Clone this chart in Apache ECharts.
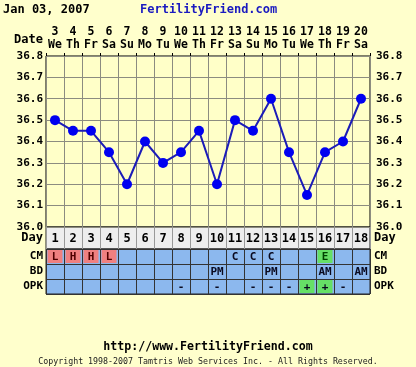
<!DOCTYPE html>
<html>
<head>
<meta charset="utf-8">
<script src="https://cdn.jsdelivr.net/npm/echarts@6/dist/echarts.min.js"></script>
<style>
html,body{margin:0;padding:0;background:#FFFFCC;}
#c{width:416px;height:367px;}
</style>
</head>
<body>
<div id="c"></div>
<script>
// ---- data ----
const chartDate = 'Jan 03, 2007';
const dates = ['3','4','5','6','7','8','9','10','11','12','13','14','15','16','17','18','19','20'];
const weekdays = ['We','Th','Fr','Sa','Su','Mo','Tu','We','Th','Fr','Sa','Su','Mo','Tu','We','Th','Fr','Sa'];
const cycleDays = ['1','2','3','4','5','6','7','8','9','10','11','12','13','14','15','16','17','18'];
const temps = [36.5,36.45,36.45,36.35,36.2,36.4,36.3,36.35,36.45,36.2,36.5,36.45,36.6,36.35,36.15,36.35,36.4,36.6];
const rowNames = ['CM','BD','OPK'];
const cm  = ['L','H','H','L','','','','','','','C','C','C','','','E','',''];
const bd  = ['','','','','','','','','','PM','','','PM','','','AM','','AM'];
const opk = ['','','','','','','','-','','-','','-','-','-','+','+','-',''];
const tempMin = 36.0, tempMax = 36.8, tempStep = 0.1;

// ---- styles ----
const FONT = 'DejaVu Sans Mono';
const cellFill = {L:'#F08080', H:'#F08080', E:'#66E066', '+':'#66E066'};
const cellText = {L:'#500000', H:'#500000', E:'#004400'};

const tableData = [];
[cm, bd, opk].forEach((row, r) => row.forEach((v, i) => { if (v) tableData.push([i, r, v]); }));

const chart = echarts.init(document.getElementById('c'));
const L = 46, R = 46;
const labelBold = {fontFamily: FONT, fontWeight: 'bold', fontSize: 11, color: '#000'};

chart.setOption({
  animation: false,
  backgroundColor: '#FFFFCC',
  graphic: [
    {type:'text', left: 3, top: 4, style:{text: chartDate, font: 'bold 12px "DejaVu Sans Mono"', fill:'#000'}},
    {type:'text', left: 140, top: 4, style:{text: 'FertilityFriend.com', font: 'bold 12px "DejaVu Sans Mono"', fill:'#1a1ac0'}},
    {type:'text', right: 416-43, top: 34, style:{text: 'Date', font: 'bold 12px "DejaVu Sans Mono"', fill:'#000', align:'right'}},
    {type:'text', left: 'center', top: 341, style:{text: 'http://www.FertilityFriend.com', font: 'bold 11.6px "DejaVu Sans Mono"', fill:'#000'}},
    {type:'text', left: 'center', top: 358, style:{text: 'Copyright 1998-2007 Tamtris Web Services Inc. - All Rights Reserved.', font: '8.3px "DejaVu Sans Mono"', fill:'#222'}}
  ],
  grid: [
    {left: L, right: R, top: 56, height: 171, show: true, backgroundColor: '#FFFFC8', borderColor: '#000', borderWidth: 1},
    {left: L, right: R, top: 227, height: 22, show: true, backgroundColor: '#EEEEEE', borderColor: '#222', borderWidth: 1},
    {left: L, right: R, top: 249, height: 45, show: true, backgroundColor: '#8CB8EE', borderColor: '#222', borderWidth: 1}
  ],
  xAxis: [
    {gridIndex: 0, type: 'category', data: dates, position: 'top', boundaryGap: true,
     axisLine: {show: false}, axisTick: {show: true, length: 3, lineStyle: {color: '#000'}},
     axisLabel: {margin: 4, interval: 0,
       formatter: (v, i) => '{n|' + v + '}\n{w|' + weekdays[i] + '}',
       rich: {n: {fontFamily: FONT, fontWeight: 'bold', fontSize: 11.5, lineHeight: 13, color: '#000'},
              w: {fontFamily: FONT, fontWeight: 'bold', fontSize: 11.5, lineHeight: 13, color: '#000'}}},
     splitLine: {show: true, lineStyle: {color: '#8c8c80', width: 1}}},
    {gridIndex: 1, type: 'category', data: cycleDays, boundaryGap: true,
     axisLine: {show: false}, axisTick: {show: false}, axisLabel: {show: false},
     splitLine: {show: true, lineStyle: {color: '#999', width: 1}}},
    {gridIndex: 2, type: 'category', data: cycleDays, boundaryGap: true,
     axisLine: {show: false}, axisTick: {show: false}, axisLabel: {show: false},
     splitLine: {show: true, lineStyle: {color: '#333', width: 1}}}
  ],
  yAxis: [
    {gridIndex: 0, type: 'value', min: tempMin, max: tempMax, interval: tempStep, position: 'left',
     axisLine: {show: false}, axisTick: {show: false},
     axisLabel: Object.assign({margin: 3, formatter: v => v.toFixed(1)}, labelBold),
     splitLine: {show: true, lineStyle: {color: '#8c8c80', width: 1}}},
    {gridIndex: 0, type: 'value', min: tempMin, max: tempMax, interval: tempStep, position: 'right',
     axisLine: {show: false}, axisTick: {show: false},
     axisLabel: Object.assign({margin: 6, formatter: v => v.toFixed(1)}, labelBold),
     splitLine: {show: false}},
    {gridIndex: 1, type: 'category', data: ['Day'], position: 'left',
     axisLine: {show: false}, axisTick: {show: false},
     axisLabel: Object.assign({margin: 3}, labelBold, {fontSize: 12})},
    {gridIndex: 1, type: 'category', data: ['Day'], position: 'right',
     axisLine: {show: false}, axisTick: {show: false},
     axisLabel: Object.assign({margin: 4}, labelBold, {fontSize: 12})},
    {gridIndex: 2, type: 'category', data: rowNames, position: 'left', inverse: true,
     axisLine: {show: false}, axisTick: {show: false},
     axisLabel: Object.assign({margin: 3}, labelBold),
     splitLine: {show: true, lineStyle: {color: '#333', width: 1}}},
    {gridIndex: 2, type: 'category', data: rowNames, position: 'right', inverse: true,
     axisLine: {show: false}, axisTick: {show: false},
     axisLabel: Object.assign({margin: 4}, labelBold)}
  ],
  series: [
    {type: 'line', xAxisIndex: 0, yAxisIndex: 0, data: temps,
     symbol: 'circle', symbolSize: 10,
     lineStyle: {color: '#1c1cb8', width: 2},
     itemStyle: {color: '#0000f0'}},
    {type: 'custom', xAxisIndex: 1, yAxisIndex: 2,
     data: cycleDays.map((d, i) => [i, 0, d]),
     renderItem: (params, api) => {
       const p = api.coord([api.value(0), api.value(1)]);
       return {type: 'text', x: p[0], y: p[1] + 1,
         style: {text: cycleDays[params.dataIndex], font: 'bold 12px "DejaVu Sans Mono"', fill: '#000', align: 'center', verticalAlign: 'middle'}};
     }},
    {type: 'custom', xAxisIndex: 2, yAxisIndex: 4,
     data: tableData,
     renderItem: (params, api) => {
       const item = tableData[params.dataIndex];
       const p = api.coord([item[0], item[1]]);
       const s = api.size([1, 1]);
       const children = [];
       const fill = cellFill[item[2]];
       if (fill) {
         children.push({type: 'rect', shape: {x: p[0] - s[0]/2 + 1.5, y: p[1] - s[1]/2 + 1, width: s[0] - 3, height: s[1] - 2},
           style: {fill: fill}});
       }
       children.push({type: 'text', x: p[0], y: p[1] + 0.5,
         style: {text: item[2], font: 'bold 11px "DejaVu Sans Mono"', fill: cellText[item[2]] || '#0a0a20', align: 'center', verticalAlign: 'middle'}});
       return {type: 'group', children: children};
     }}
  ]
});
</script>
</body>
</html>
